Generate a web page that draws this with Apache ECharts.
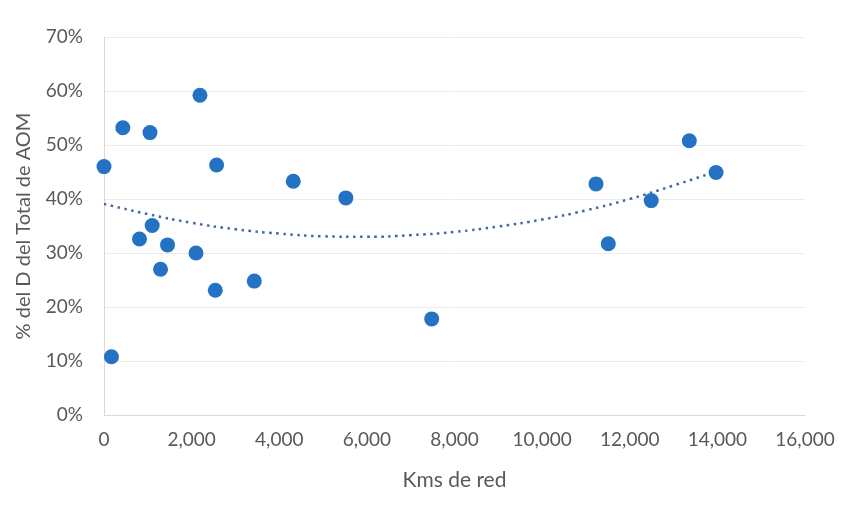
<!DOCTYPE html>
<html><head><meta charset="utf-8">
<script src="https://cdn.jsdelivr.net/npm/echarts@6/dist/echarts.min.js"></script>
<style>html,body{margin:0;padding:0;background:#fff}#c{width:850px;height:523px}</style>
</head><body><div id="c"></div>
<script>
// Scatter points: km of network vs % share
const kms = [0, 430, 1050, 2190, 2570, 4320, 810, 1100, 1450, 1290, 2100, 2540, 3430, 170, 5520, 7480, 11230, 11510, 12490, 13360, 13970];
const pct = [46.0, 53.2, 52.3, 59.2, 46.3, 43.3, 32.6, 35.1, 31.5, 27.0, 30.0, 23.1, 24.8, 10.8, 40.2, 17.8, 42.8, 31.7, 39.7, 50.8, 44.9];
// Trend line readings (dotted polynomial trend)
const trendKms = [0, 1000, 2000, 3000, 4000, 5000, 6000, 7000, 8000, 9000, 10000, 11000, 12000, 13000, 13900];
const trendPct = [39.1, 37.2, 35.6, 34.4, 33.6, 33.1, 33.0, 33.3, 33.9, 34.9, 36.2, 37.9, 40.0, 42.5, 44.9];
const xTicks = {min: 0, max: 16000, interval: 2000};
const yTicks = {min: 0, max: 70, interval: 10};

const font = 'Lato, "Open Sans", sans-serif';
const chart = echarts.init(document.getElementById('c'), null, {renderer: 'canvas'});
chart.setOption({
  animation: false,
  backgroundColor: '#ffffff',
  grid: {left: 104, right: 45, top: 37, bottom: 108},
  xAxis: {
    type: 'value', min: xTicks.min, max: xTicks.max, interval: xTicks.interval,
    name: 'Kms de red', nameLocation: 'middle', nameGap: 55,
    nameTextStyle: {color: '#595959', fontSize: 21, fontFamily: font},
    axisLine: {show: true, lineStyle: {color: '#d9d9d9'}},
    axisTick: {show: false},
    axisLabel: {color: '#595959', fontSize: 19, fontFamily: font, margin: 15,
      formatter: v => v.toLocaleString('en-US')},
    splitLine: {show: false}
  },
  yAxis: {
    type: 'value', min: yTicks.min, max: yTicks.max, interval: yTicks.interval,
    name: '% del D del Total de AOM', nameLocation: 'middle', nameGap: 70,
    nameTextStyle: {color: '#595959', fontSize: 20, fontFamily: font},
    axisLine: {show: true, lineStyle: {color: '#d9d9d9'}},
    axisTick: {show: false},
    axisLabel: {color: '#595959', fontSize: 19, fontFamily: font, margin: 21,
      formatter: v => v + '%'},
    splitLine: {show: true, lineStyle: {color: '#ececec'}}
  },
  series: [
    {
      type: 'line', data: trendKms.map((k, i) => [k, trendPct[i]]),
      smooth: true, showSymbol: false, symbol: 'none',
      lineStyle: {color: '#44679c', width: 2.5, type: [2.5, 4.5]},
      z: 2
    },
    {
      type: 'scatter', data: kms.map((k, i) => [k, pct[i]]),
      symbolSize: 15,
      itemStyle: {color: '#2372c4', opacity: 1},
      z: 3
    }
  ]
});
</script></body></html>
